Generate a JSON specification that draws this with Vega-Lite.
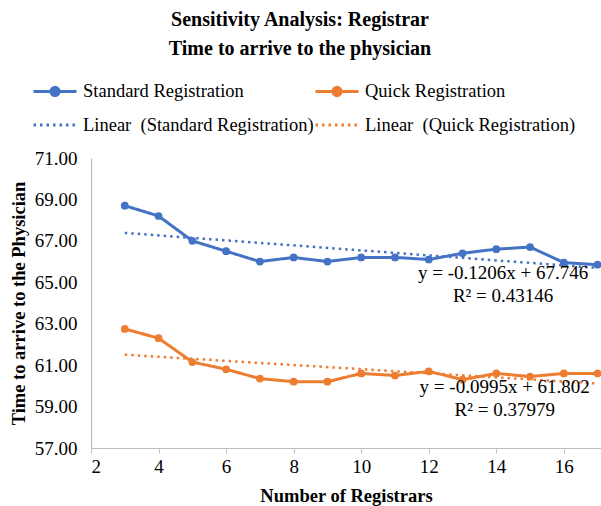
{
  "$schema": "https://vega.github.io/schema/vega-lite/v6.json",
  "width": 510,
  "height": 290,
  "autosize": {"type": "none"},
  "padding": {"left": 91, "top": 158, "right": 0, "bottom": 58},
  "background": "white",
  "config": {
    "font": "Liberation Serif",
    "view": {"stroke": null},
    "axis": {"labelColor": "black", "titleColor": "black", "labelFont": "Liberation Serif", "titleFont": "Liberation Serif", "labelFontSize": 19, "titleFontSize": 18.5, "titleFontWeight": "bold", "grid": false, "domainColor": "#BFBFBF", "domainWidth": 1.2, "tickColor": "#BFBFBF"}
  },
  "title": {
    "text": ["Sensitivity Analysis: Registrar", "Time to arrive to the physician"],
    "font": "Liberation Serif",
    "fontSize": 20,
    "fontWeight": "bold",
    "color": "black",
    "anchor": "middle",
    "dx": -46,
    "offset": 9,
    "lineHeight": 29
  },
  "datasets": {
    "series": [
      {"x": 3, "y": 68.7, "series": "Standard Registration"},
      {"x": 4, "y": 68.2, "series": "Standard Registration"},
      {"x": 5, "y": 67.0, "series": "Standard Registration"},
      {"x": 6, "y": 66.5, "series": "Standard Registration"},
      {"x": 7, "y": 66.0, "series": "Standard Registration"},
      {"x": 8, "y": 66.2, "series": "Standard Registration"},
      {"x": 9, "y": 66.0, "series": "Standard Registration"},
      {"x": 10, "y": 66.2, "series": "Standard Registration"},
      {"x": 11, "y": 66.2, "series": "Standard Registration"},
      {"x": 12, "y": 66.1, "series": "Standard Registration"},
      {"x": 13, "y": 66.4, "series": "Standard Registration"},
      {"x": 14, "y": 66.6, "series": "Standard Registration"},
      {"x": 15, "y": 66.7, "series": "Standard Registration"},
      {"x": 16, "y": 65.95, "series": "Standard Registration"},
      {"x": 17, "y": 65.85, "series": "Standard Registration"},
      {"x": 3, "y": 62.75, "series": "Quick Registration"},
      {"x": 4, "y": 62.3, "series": "Quick Registration"},
      {"x": 5, "y": 61.15, "series": "Quick Registration"},
      {"x": 6, "y": 60.8, "series": "Quick Registration"},
      {"x": 7, "y": 60.35, "series": "Quick Registration"},
      {"x": 8, "y": 60.2, "series": "Quick Registration"},
      {"x": 9, "y": 60.2, "series": "Quick Registration"},
      {"x": 10, "y": 60.6, "series": "Quick Registration"},
      {"x": 11, "y": 60.5, "series": "Quick Registration"},
      {"x": 12, "y": 60.7, "series": "Quick Registration"},
      {"x": 13, "y": 60.3, "series": "Quick Registration"},
      {"x": 14, "y": 60.6, "series": "Quick Registration"},
      {"x": 15, "y": 60.45, "series": "Quick Registration"},
      {"x": 16, "y": 60.6, "series": "Quick Registration"},
      {"x": 17, "y": 60.6, "series": "Quick Registration"}
    ],
    "trend": [
      {"x": 3, "y": 67.384, "series": "Linear\u00a0 (Standard Registration)"},
      {"x": 17, "y": 65.696, "series": "Linear\u00a0 (Standard Registration)"},
      {"x": 3, "y": 61.5035, "series": "Linear\u00a0 (Quick Registration)"},
      {"x": 17, "y": 60.1105, "series": "Linear\u00a0 (Quick Registration)"}
    ],
    "annot": [
      {"series": "Standard Registration", "label": "y = -0.1206x + 67.746\nR² = 0.43146"},
      {"series": "Quick Registration", "label": "y = -0.0995x + 61.802\nR² = 0.37979"}
    ]
  },
  "layer": [
    {
      "data": {"name": "series"},
      "mark": {"type": "line", "strokeWidth": 3},
      "encoding": {
        "x": {
          "field": "x", "type": "quantitative",
          "scale": {"domain": [2, 17.1], "nice": false, "zero": false},
          "axis": {"values": [2, 4, 6, 8, 10, 12, 14, 16], "title": "Number of Registrars", "tickSize": 5, "labelPadding": 4, "titlePadding": 10}
        },
        "y": {
          "field": "y", "type": "quantitative",
          "scale": {"domain": [57, 71], "nice": false, "zero": false},
          "axis": {"values": [57, 59, 61, 63, 65, 67, 69, 71], "format": ".2f", "ticks": false, "labelPadding": 14, "title": "Time to arrive to the Physician", "titlePadding": 6}
        },
        "color": {
          "field": "series", "type": "nominal",
          "scale": {
            "domain": ["Standard Registration", "Linear\u00a0 (Standard Registration)", "Quick Registration", "Linear\u00a0 (Quick Registration)"],
            "range": ["#4472C4", "#4472C4", "#ED7D31", "#ED7D31"]
          },
          "legend": {
            "title": null,
            "orient": "none",
            "legendX": -59,
            "legendY": -90,
            "columns": 2,
            "columnPadding": -10,
            "rowPadding": -4,
            "padding": 0,
            "labelFont": "Liberation Serif",
            "labelFontSize": 18.5,
            "labelColor": "black",
            "labelOffset": 5,
            "labelLimit": 400,
            "symbolSize": 1849,
            "symbolType": "stroke",
            "symbolStrokeWidth": 3,
            "encode": {
              "symbols": {
                "update": {
                  "shape": {"signal": "indexof('' + datum.value, 'Linear') == 0 ? 'stroke' : 'M-1,0L1,0M-0.19,0A0.19,0.19,0,1,1,0.19,0A0.19,0.19,0,1,1,-0.19,0Z'"},
                  "fill": {"scale": "color", "field": "value"}
                }
              }
            }
          }
        },
        "strokeDash": {
          "field": "series", "type": "nominal",
          "scale": {
            "domain": ["Standard Registration", "Linear\u00a0 (Standard Registration)", "Quick Registration", "Linear\u00a0 (Quick Registration)"],
            "range": [[1, 0], [2.5, 4], [1, 0], [2.5, 4]]
          }
        }
      }
    },
    {
      "data": {"name": "trend"},
      "mark": {"type": "line", "strokeWidth": 2.5},
      "encoding": {
        "x": {"field": "x", "type": "quantitative"},
        "y": {"field": "y", "type": "quantitative"},
        "color": {"field": "series", "type": "nominal"},
        "strokeDash": {"field": "series", "type": "nominal"}
      }
    },
    {
      "data": {"name": "series"},
      "mark": {"type": "point", "filled": true, "size": 60, "opacity": 1},
      "encoding": {
        "x": {"field": "x", "type": "quantitative"},
        "y": {"field": "y", "type": "quantitative"},
        "color": {"field": "series", "type": "nominal"}
      }
    },
    {
      "data": {"name": "annot"},
      "transform": [{"filter": "datum.series == 'Standard Registration'"}],
      "mark": {"type": "text", "font": "Liberation Serif", "fontSize": 19, "color": "black", "align": "center", "baseline": "middle", "lineBreak": "\n", "lineHeight": 23},
      "encoding": {
        "x": {"datum": 14.2, "type": "quantitative"},
        "y": {"datum": 65.43, "type": "quantitative"},
        "text": {"field": "label"}
      }
    },
    {
      "data": {"name": "annot"},
      "transform": [{"filter": "datum.series == 'Quick Registration'"}],
      "mark": {"type": "text", "font": "Liberation Serif", "fontSize": 19, "color": "black", "align": "center", "baseline": "middle", "lineBreak": "\n", "lineHeight": 23},
      "encoding": {
        "x": {"datum": 14.25, "type": "quantitative"},
        "y": {"datum": 59.93, "type": "quantitative"},
        "text": {"field": "label"}
      }
    }
  ]
}
